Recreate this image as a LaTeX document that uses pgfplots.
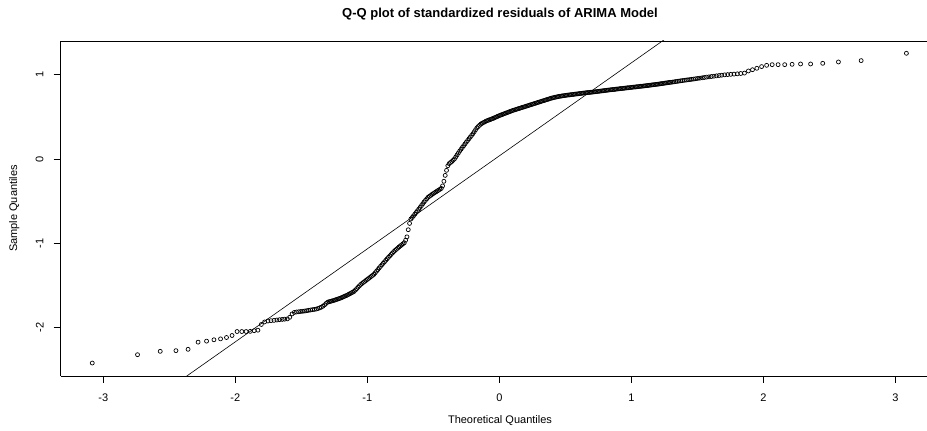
\documentclass[border=0pt]{standalone}
\usepackage{pgfplots}
\pgfplotsset{compat=1.18}
\usepackage{fontspec}
\setmainfont{Liberation Sans}
\begin{document}
\begin{tikzpicture}
\begin{axis}[
  scale only axis,
  width=866.3pt, height=335pt,
  at={(0,0)}, anchor=south west,
  xmin=-3.323, xmax=3.24,
  ymin=-2.577, ymax=1.401,
  axis x line*=box, axis y line*=left,
  axis line style={black, line width=0.8pt},
  tick pos=left, tick align=outside,
  major tick length=7pt,
  tick style={black, line width=0.8pt},
  xtick={-3,-2,-1,0,1,2,3},
  xticklabels={-3,-2,-1,0,1,2,3},
  ytick={-2,-1,0,1},
  yticklabels={-2,-1,0,1},
  tick label style={font=\fontsize{11}{12}\selectfont},
  xticklabel style={anchor=center, yshift=-14.7pt},
  yticklabel style={rotate=90, anchor=center, yshift=14pt},
  clip=true,
]
\addplot[black, line width=0.6pt] coordinates {(-3.4,-3.717) (3.4,3.791)};
\addplot[only marks, mark=o, mark size=2pt, mark options={line width=0.7pt, black}] table {
x y
-3.084 -2.423
-2.741 -2.324
-2.569 -2.284
-2.450 -2.276
-2.358 -2.260
-2.282 -2.175
-2.218 -2.163
-2.162 -2.147
-2.112 -2.136
-2.067 -2.120
-2.025 -2.096
-1.987 -2.049
-1.951 -2.049
-1.918 -2.049
-1.887 -2.047
-1.857 -2.039
-1.829 -2.033
-1.803 -1.965
-1.778 -1.935
-1.753 -1.924
-1.730 -1.920
-1.707 -1.917
-1.685 -1.912
-1.665 -1.908
-1.645 -1.905
-1.626 -1.902
-1.606 -1.899
-1.588 -1.880
-1.570 -1.840
-1.553 -1.822
-1.537 -1.817
-1.520 -1.814
-1.504 -1.811
-1.488 -1.808
-1.473 -1.805
-1.458 -1.801
-1.444 -1.797
-1.429 -1.793
-1.415 -1.789
-1.401 -1.786
-1.387 -1.782
-1.374 -1.776
-1.361 -1.768
-1.349 -1.760
-1.336 -1.748
-1.324 -1.732
-1.312 -1.715
-1.30 -1.700
-1.29 -1.695
-1.28 -1.691
-1.27 -1.687
-1.26 -1.682
-1.25 -1.678
-1.24 -1.672
-1.23 -1.667
-1.22 -1.661
-1.21 -1.656
-1.20 -1.650
-1.19 -1.643
-1.18 -1.636
-1.17 -1.629
-1.16 -1.622
-1.15 -1.615
-1.14 -1.606
-1.13 -1.598
-1.12 -1.589
-1.11 -1.581
-1.10 -1.572
-1.09 -1.556
-1.08 -1.539
-1.07 -1.523
-1.06 -1.506
-1.05 -1.490
-1.04 -1.478
-1.03 -1.466
-1.02 -1.454
-1.01 -1.442
-1.00 -1.430
-0.99 -1.418
-0.98 -1.406
-0.97 -1.394
-0.96 -1.382
-0.95 -1.370
-0.94 -1.351
-0.93 -1.332
-0.92 -1.313
-0.91 -1.294
-0.90 -1.275
-0.89 -1.257
-0.88 -1.239
-0.87 -1.221
-0.86 -1.203
-0.85 -1.185
-0.84 -1.168
-0.83 -1.151
-0.82 -1.134
-0.81 -1.117
-0.80 -1.100
-0.79 -1.086
-0.78 -1.073
-0.77 -1.059
-0.76 -1.045
-0.75 -1.032
-0.74 -1.020
-0.73 -1.007
-0.72 -0.995
-0.71 -0.965
-0.70 -0.925
-0.69 -0.840
-0.68 -0.765
-0.67 -0.712
-0.66 -0.695
-0.65 -0.675
-0.64 -0.655
-0.63 -0.635
-0.62 -0.615
-0.61 -0.595
-0.60 -0.575
-0.59 -0.553
-0.58 -0.532
-0.57 -0.510
-0.56 -0.492
-0.55 -0.473
-0.54 -0.455
-0.53 -0.444
-0.52 -0.433
-0.51 -0.421
-0.50 -0.410
-0.49 -0.400
-0.48 -0.390
-0.47 -0.380
-0.46 -0.370
-0.45 -0.360
-0.44 -0.350
-0.43 -0.320
-0.42 -0.265
-0.41 -0.195
-0.40 -0.135
-0.39 -0.080
-0.38 -0.055
-0.37 -0.042
-0.36 -0.030
-0.35 -0.015
-0.34 0.000
-0.33 0.024
-0.32 0.048
-0.31 0.071
-0.30 0.095
-0.29 0.116
-0.28 0.137
-0.27 0.158
-0.26 0.179
-0.25 0.200
-0.24 0.220
-0.23 0.240
-0.22 0.260
-0.21 0.280
-0.20 0.300
-0.19 0.323
-0.18 0.347
-0.17 0.370
-0.16 0.385
-0.15 0.400
-0.14 0.415
-0.13 0.424
-0.12 0.433
-0.11 0.441
-0.10 0.450
-0.09 0.456
-0.08 0.462
-0.07 0.468
-0.06 0.474
-0.05 0.480
-0.04 0.487
-0.03 0.494
-0.02 0.501
-0.01 0.508
0.00 0.515
0.01 0.521
0.02 0.527
0.03 0.533
0.04 0.539
0.05 0.545
0.06 0.551
0.07 0.557
0.08 0.563
0.09 0.569
0.10 0.575
0.11 0.580
0.12 0.585
0.13 0.590
0.14 0.595
0.15 0.600
0.16 0.605
0.17 0.610
0.18 0.615
0.19 0.620
0.20 0.625
0.21 0.630
0.22 0.635
0.23 0.640
0.24 0.645
0.25 0.650
0.26 0.655
0.27 0.660
0.28 0.665
0.29 0.670
0.30 0.675
0.31 0.680
0.32 0.685
0.33 0.690
0.34 0.695
0.35 0.700
0.36 0.705
0.37 0.710
0.38 0.715
0.39 0.720
0.40 0.725
0.41 0.728
0.42 0.732
0.43 0.735
0.44 0.739
0.45 0.742
0.46 0.745
0.47 0.747
0.48 0.750
0.49 0.752
0.50 0.755
0.51 0.757
0.52 0.759
0.53 0.761
0.54 0.763
0.55 0.765
0.56 0.767
0.57 0.769
0.58 0.771
0.59 0.773
0.60 0.775
0.61 0.777
0.62 0.779
0.63 0.781
0.64 0.783
0.65 0.785
0.66 0.787
0.67 0.788
0.68 0.790
0.69 0.792
0.70 0.793
0.71 0.795
0.72 0.797
0.73 0.799
0.74 0.801
0.75 0.803
0.76 0.805
0.77 0.807
0.78 0.809
0.79 0.811
0.80 0.813
0.81 0.815
0.82 0.817
0.83 0.819
0.84 0.821
0.85 0.823
0.86 0.824
0.87 0.826
0.88 0.828
0.89 0.830
0.90 0.832
0.91 0.834
0.92 0.836
0.93 0.837
0.94 0.839
0.95 0.841
0.96 0.843
0.97 0.845
0.98 0.846
0.99 0.848
1.00 0.850
1.01 0.852
1.02 0.854
1.03 0.855
1.04 0.857
1.05 0.859
1.06 0.861
1.07 0.863
1.08 0.864
1.09 0.866
1.10 0.868
1.11 0.870
1.12 0.872
1.13 0.874
1.14 0.876
1.15 0.878
1.16 0.880
1.17 0.882
1.18 0.884
1.19 0.886
1.20 0.888
1.21 0.890
1.22 0.893
1.23 0.895
1.24 0.897
1.25 0.900
1.26 0.902
1.27 0.904
1.28 0.907
1.29 0.909
1.30 0.911
1.312 0.913
1.324 0.916
1.336 0.919
1.349 0.922
1.361 0.925
1.374 0.928
1.387 0.931
1.401 0.934
1.415 0.937
1.429 0.940
1.444 0.943
1.458 0.946
1.473 0.949
1.488 0.953
1.504 0.957
1.520 0.960
1.537 0.964
1.553 0.968
1.570 0.972
1.588 0.975
1.606 0.979
1.626 0.983
1.645 0.987
1.665 0.991
1.685 0.995
1.707 0.999
1.730 1.002
1.753 1.005
1.778 1.008
1.803 1.011
1.829 1.015
1.857 1.020
1.887 1.045
1.918 1.060
1.951 1.077
1.987 1.097
2.025 1.112
2.067 1.120
2.112 1.120
2.162 1.120
2.218 1.124
2.282 1.128
2.358 1.128
2.450 1.136
2.569 1.152
2.741 1.168
3.084 1.255
};
\end{axis}
\node[font=\bfseries\fontsize{13}{15}\selectfont] at (439.3pt,361.7pt) {Q-Q plot of standardized residuals of ARIMA Model};
\node[font=\fontsize{11}{12}\selectfont] at (439.3pt,-45pt) {Theoretical Quantiles};
\node[font=\fontsize{11}{12}\selectfont, rotate=90] at (-46.4pt,167.5pt) {Sample Quantiles};
\pgfresetboundingbox
\path (-60.7pt,-55pt) rectangle (866.3pt,376pt);
\end{tikzpicture}
\end{document}
